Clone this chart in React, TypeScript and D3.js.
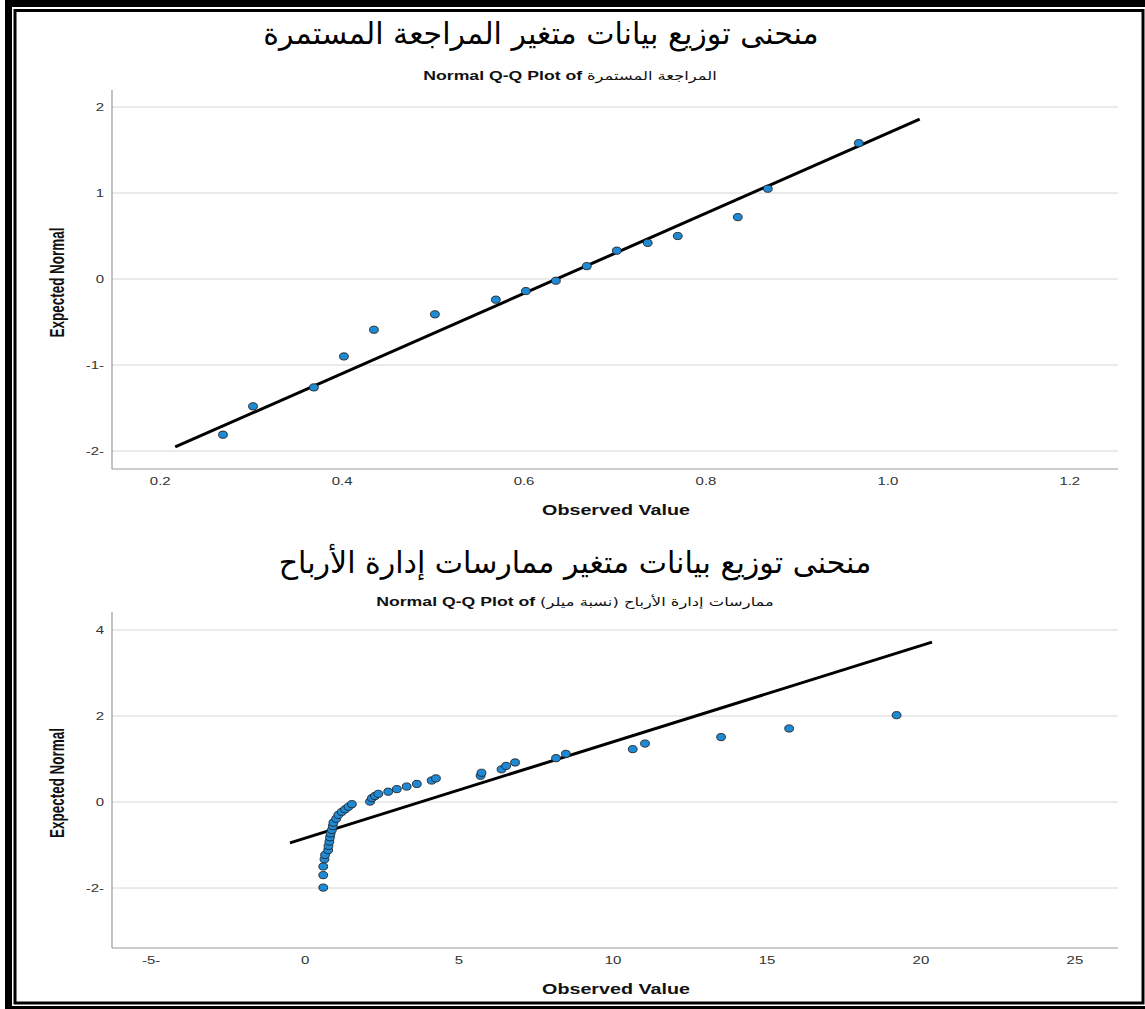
import React from "react";
import * as d3 from "d3";

// ---------- DATA ----------
const title1 = "منحنى توزيع بيانات متغير المراجعة المستمرة";
const subtitlePrefix = "Normal Q-Q Plot of ";
const subtitle1Var = "المراجعة المستمرة";
const title2 = "منحنى توزيع بيانات متغير ممارسات إدارة الأرباح";
const subtitle2Var = "ممارسات إدارة الأرباح (نسبة ميلر)";

const topObserved = [0.269, 0.302, 0.369, 0.402, 0.435, 0.502, 0.569, 0.602, 0.635, 0.669, 0.702, 0.736, 0.769, 0.835, 0.868, 0.968];
const topExpected = [-1.81, -1.48, -1.26, -0.9, -0.59, -0.41, -0.24, -0.14, -0.02, 0.15, 0.33, 0.42, 0.5, 0.72, 1.05, 1.58];
const topLineX = [0.2165, 1.035];
const topLineY = [-1.953, 1.86];
const topXTicks = [0.2, 0.4, 0.6, 0.8, 1.0, 1.2];
const topXTickLabels = ["0.2", "0.4", "0.6", "0.8", "1.0", "1.2"];
const topYTicks = [2, 1, 0, -1, -2];
const topYTickLabels = ["2", "1", "0", "-1-", "-2-"];

const botObserved = [0.59, 0.59, 0.59, 0.63, 0.65, 0.75, 0.76, 0.79, 0.81, 0.83, 0.87, 0.9, 0.92, 1.01, 1.08, 1.19, 1.3, 1.41, 1.52, 2.11, 2.17, 2.27, 2.38, 2.7, 2.98, 3.3, 3.63, 4.11, 4.25, 5.7, 5.73, 6.38, 6.53, 6.82, 8.15, 8.47, 10.64, 11.04, 13.51, 15.72, 19.21];
const botExpected = [-1.99, -1.7, -1.5, -1.33, -1.23, -1.12, -1.02, -0.92, -0.82, -0.73, -0.65, -0.56, -0.48, -0.39, -0.3, -0.23, -0.17, -0.11, -0.05, 0.01, 0.09, 0.14, 0.19, 0.24, 0.3, 0.36, 0.42, 0.5, 0.55, 0.61, 0.68, 0.76, 0.84, 0.92, 1.02, 1.12, 1.23, 1.36, 1.51, 1.71, 2.02];
const botLineX = [-0.49, 20.36];
const botLineY = [-0.95, 3.72];
const botXTicks = [-5, 0, 5, 10, 15, 20, 25];
const botXTickLabels = ["-5-", "0", "5", "10", "15", "20", "25"];
const botYTicks = [4, 2, 0, -2];
const botYTickLabels = ["4", "2", "0", "-2-"];

// ---------- STYLE ----------
const W = 1145;
const H = 1009;
const PLOT_LEFT = 112;
const PLOT_RIGHT = 1118;
const POINT_FILL = "#1e8ad6";
const GRID = "#d6d6d6";
const AXIS = "#9a9a9a";
const SX = 1.36; // horizontal stretch of the pasted chart image
const FONT = "'Liberation Sans', Arial, 'DejaVu Sans', sans-serif";
const AR_FONT = "'DejaVu Sans', sans-serif";

function SText(props: {
  x: number;
  y: number;
  anchor?: string;
  size: number;
  bold?: boolean;
  fill?: string;
  children: React.ReactNode;
}) {
  return (
    <text
      transform={`translate(${props.x},${props.y}) scale(${SX},1)`}
      textAnchor={props.anchor || "middle"}
      fontSize={props.size}
      fontWeight={props.bold ? "bold" : "normal"}
      fill={props.fill || "#333"}
      fontFamily={FONT}
    >
      {props.children}
    </text>
  );
}

type PanelProps = {
  xDomain: [number, number];
  yDomain: [number, number];
  yTop: number;
  yBottom: number;
  observed: number[];
  expected: number[];
  lineX: number[];
  lineY: number[];
  xTicks: number[];
  xTickLabels: string[];
  yTicks: number[];
  yTickLabels: string[];
};

function Panel(p: PanelProps) {
  const x = d3.scaleLinear().domain(p.xDomain).range([PLOT_LEFT, PLOT_RIGHT]);
  const y = d3.scaleLinear().domain(p.yDomain).range([p.yBottom, p.yTop]);
  const line = d3
    .line<number>()
    .x((_, i) => x(p.lineX[i]))
    .y((_, i) => y(p.lineY[i]));
  const midY = (p.yTop + p.yBottom) / 2;
  return (
    <g>
      {p.yTicks.map((t, i) => (
        <g key={"y" + i}>
          <line x1={PLOT_LEFT} x2={PLOT_RIGHT} y1={y(t)} y2={y(t)} stroke={GRID} strokeWidth={1} />
          <SText x={104} y={y(t) + 4} anchor="end" size={11}>
            {p.yTickLabels[i]}
          </SText>
        </g>
      ))}
      <line x1={PLOT_LEFT} x2={PLOT_LEFT} y1={p.yTop} y2={p.yBottom} stroke={AXIS} strokeWidth={1.2} />
      <line x1={PLOT_LEFT} x2={PLOT_RIGHT} y1={p.yBottom} y2={p.yBottom} stroke={AXIS} strokeWidth={1.2} />
      {p.xTicks.map((t, i) => (
        <SText key={"x" + i} x={x(t)} y={p.yBottom + 16} size={11}>
          {p.xTickLabels[i]}
        </SText>
      ))}
      <SText x={616} y={p.yBottom + 46} size={14.5} bold fill="#111">
        Observed Value
      </SText>
      <text
        transform={`translate(64,${midY + 3}) scale(${SX},1) rotate(-90)`}
        textAnchor="middle"
        fontSize={14.5}
        fontWeight="bold"
        fill="#111"
        fontFamily={FONT}
        textLength={110}
        lengthAdjust="spacingAndGlyphs"
      >
        Expected Normal
      </text>
      <path d={line(p.lineX) || ""} stroke="#000" strokeWidth={3} fill="none" />
      {p.observed.map((v, i) => (
        <ellipse key={"p" + i} cx={x(v)} cy={y(p.expected[i])} rx={4.4} ry={3.6} fill={POINT_FILL} stroke="#222" strokeWidth={0.9} />
      ))}
    </g>
  );
}

function Subtitle(props: { x: number; y: number; variable: string }) {
  return (
    <text
      transform={`translate(${props.x},${props.y}) scale(${SX},1)`}
      textAnchor="middle"
      fontSize={13}
      fontWeight="bold"
      fill="#111"
      fontFamily={FONT}
    >
      <tspan>{subtitlePrefix}</tspan>
      <tspan fontFamily={AR_FONT} fontWeight="normal" fontSize={12}>
        {props.variable}
      </tspan>
    </text>
  );
}

export default function App() {
  return (
    <svg width={W} height={H} style={{ position: "absolute", left: 0, top: 0, background: "#fff" }}>
      <rect x={0} y={0} width={W} height={H} fill="#fff" />
      {/* border */}
      <rect x={8.5} y={3.5} width={W + 10} height={1006} fill="none" stroke="#000" strokeWidth={7} />
      <rect x={15} y={10.5} width={1128} height={992.5} fill="none" stroke="#000" strokeWidth={3} />

      <text x={541} y={44} textAnchor="middle" fontSize={30} fill="#000" fontFamily={AR_FONT} direction="rtl">
        {title1}
      </text>
      <Subtitle x={570} y={80} variable={subtitle1Var} />
      <Panel
        xDomain={[0.147, 1.253]}
        yDomain={[-2.209, 2.198]}
        yTop={90}
        yBottom={469}
        observed={topObserved}
        expected={topExpected}
        lineX={topLineX}
        lineY={topLineY}
        xTicks={topXTicks}
        xTickLabels={topXTickLabels}
        yTicks={topYTicks}
        yTickLabels={topYTickLabels}
      />

      <text x={575} y={573} textAnchor="middle" fontSize={30} fill="#000" fontFamily={AR_FONT} direction="rtl">
        {title2}
      </text>
      <Subtitle x={575} y={606} variable={subtitle2Var} />
      <Panel
        xDomain={[-6.27, 26.4]}
        yDomain={[-3.395, 4.419]}
        yTop={612}
        yBottom={948}
        observed={botObserved}
        expected={botExpected}
        lineX={botLineX}
        lineY={botLineY}
        xTicks={botXTicks}
        xTickLabels={botXTickLabels}
        yTicks={botYTicks}
        yTickLabels={botYTickLabels}
      />
    </svg>
  );
}
